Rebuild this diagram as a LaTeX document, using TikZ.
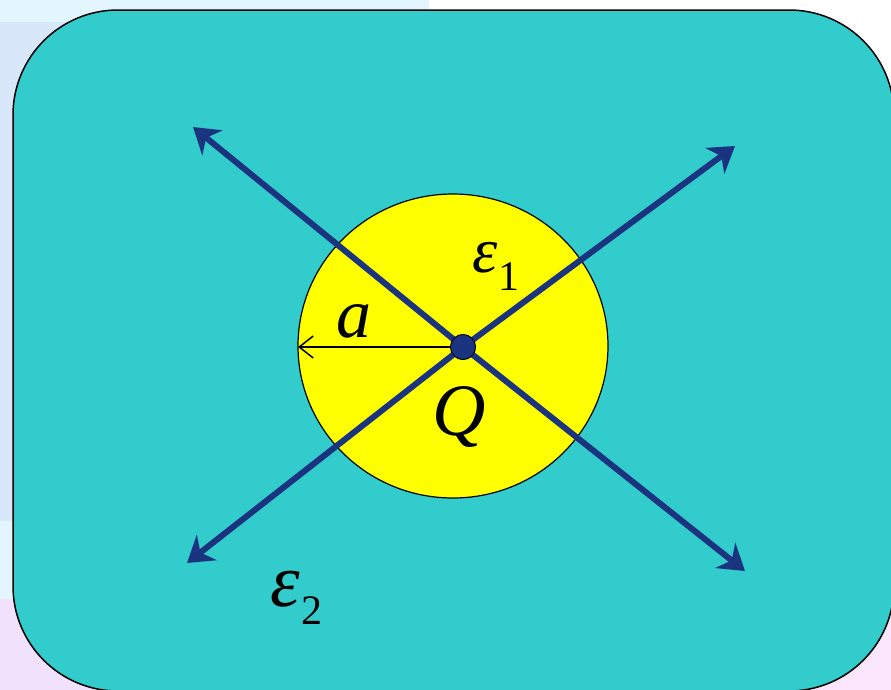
\documentclass[tikz,border=0pt]{standalone}
\usepackage{fontspec}
\setmainfont{Liberation Serif}
\usetikzlibrary{arrows.meta}
\definecolor{bgblue}{HTML}{D9E7FB}
\definecolor{bgpale}{HTML}{E3F5FE}
\definecolor{bgpinkL}{HTML}{F1E1FC}
\definecolor{bgpinkR}{HTML}{FCE6FC}
\definecolor{teal}{HTML}{33CCCC}
\definecolor{sphere}{HTML}{FFFF00}
\definecolor{fieldblue}{HTML}{1B3480}
\tikzset{
  fieldarrow/.style={draw=fieldblue, line width=6pt, -{Stealth[length=25pt,width=32pt,inset=8pt]}},
  radiusarrow/.style={draw=black, line width=1.5pt, -{Straight Barb[length=14pt,width=22pt]}},
  lbl/.style={inner sep=0pt, anchor=base west, text=black},
}
\begin{document}
\begin{tikzpicture}[x=1pt,y=-1pt]
\useasboundingbox (0,0) rectangle (891,689);
\begin{scope}
\clip (0,0) rectangle (891,689);
% slide background
\fill[white] (0,0) rectangle (891,689);
\fill[bgpale] (0,0) rectangle (429,22);
\fill[bgblue] (0,22) rectangle (429,521);
\fill[bgpale] (0,521) rectangle (429,599);
\shade[left color=bgpinkL, right color=bgpinkR] (0,599) rectangle (891,689);
% medium
\draw[fill=teal, line width=1.5pt, rounded corners=105pt] (13,10) rectangle (894,691);
\end{scope}
% sphere
\draw[fill=sphere, line width=1.2pt] (453,346) ellipse [x radius=155, y radius=152];
% charge
\node[circle, fill=fieldblue, draw=black, line width=0.8pt, minimum size=25pt, inner sep=0pt] (Qdot) at (463,347) {};
\coordinate (ul) at (193,127);
\coordinate (ur) at (735,146);
\coordinate (ll) at (187,563);
\coordinate (lr) at (745,571);
\coordinate (rim) at (298,347);
\draw[fieldarrow] (Qdot.center) -- (ul);
\draw[fieldarrow] (Qdot.center) -- (ur);
\draw[fieldarrow] (Qdot.center) -- (ll);
\draw[fieldarrow] (Qdot.center) -- (lr);
\node[circle, fill=fieldblue, draw=black, line width=0.8pt, minimum size=25pt, inner sep=0pt] (Qdot2) at (463,347) {};
\draw[radiusarrow] (Qdot2.west) -- (rim);
% labels
\node[lbl, font=\fontsize{70}{70}\selectfont\itshape] (lbla) at (336,337) {a};
\node[lbl, font=\fontsize{74}{74}\selectfont\itshape] (lblQ) at (432,435) {Q};
\node[lbl, font=\fontsize{64}{64}\selectfont\itshape] (eps1) at (472,272) {ε};
\node[lbl, font=\fontsize{42}{42}\selectfont] (sub1) at (498,290) {1};
\node[lbl, font=\fontsize{75}{75}\selectfont\itshape] (eps2) at (270,606) {ε};
\node[lbl, font=\fontsize{42}{42}\selectfont] (sub2) at (301,624) {2};
\end{tikzpicture}
\end{document}
